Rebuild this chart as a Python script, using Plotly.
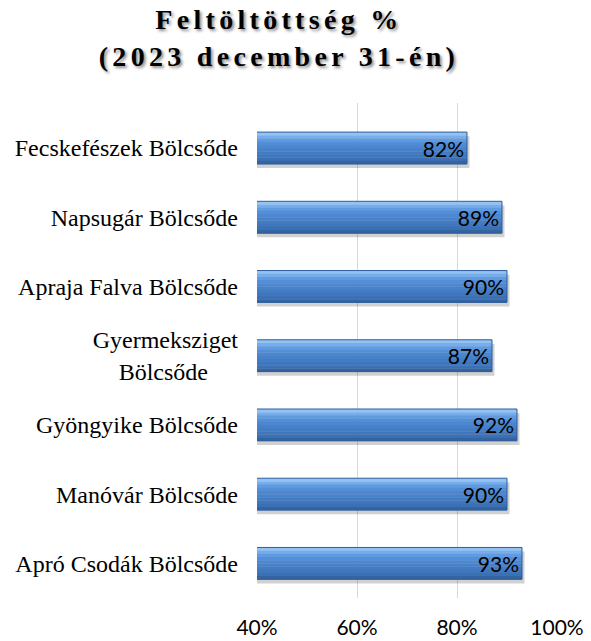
import plotly.graph_objects as go

categories = [
    "Fecskefészek Bölcsőde",
    "Napsugár Bölcsőde",
    "Apraja Falva Bölcsőde",
    "Gyermeksziget<br>Bölcsőde" + "\u00a0" * 5,
    "Gyöngyike Bölcsőde",
    "Manóvár Bölcsőde",
    "Apró Csodák Bölcsőde",
]
values = [82, 89, 90, 87, 92, 90, 93]
tick_vals = [40, 60, 80, 100]
tick_text = ["40%", "60%", "80%", "100%"]

W = 0.46
fig = go.Figure()

# soft shadow
fig.add_trace(go.Bar(
    y=categories, x=[v + 0.5 for v in values], orientation="h",
    width=W, offset=-W / 2 + 0.06,
    marker=dict(color="rgba(0,0,0,0.18)", line=dict(width=0)),
    hoverinfo="skip", showlegend=False,
))

# vertical gradient built from thin strips (top -> bottom)
strip_colors = ["#93c3f3", "#77adeb", "#609ae0", "#538fd7", "#4c87d0",
                "#4781ca", "#437cc3", "#3f76bc", "#3b70b4", "#33649f"]
n = len(strip_colors)
sw = W / n
for i, c in enumerate(strip_colors):
    fig.add_trace(go.Bar(
        y=categories, x=values, orientation="h",
        width=sw + 0.004, offset=-W / 2 + i * sw,
        marker=dict(color=c, line=dict(width=0)),
        hoverinfo="skip", showlegend=False,
    ))

# outline + labels
fig.add_trace(go.Bar(
    y=categories, x=values, orientation="h",
    width=W, offset=-W / 2,
    marker=dict(color="rgba(0,0,0,0)", line=dict(color="#2f5e9c", width=1)),
    texttemplate="%{x}%", textposition="inside", insidetextanchor="end",
    textfont=dict(family="Lato", size=21, color="#000000"),
    constraintext="none",
    hoverinfo="skip", showlegend=False,
))

fig.update_layout(
    width=591, height=641,
    margin=dict(l=257, r=34, t=103, b=43),
    paper_bgcolor="white", plot_bgcolor="white",
    barmode="overlay",
    showlegend=False,
    title=dict(
        text="Feltöltöttség %<br>(2023 december 31-én)",
        x=0.472, xanchor="center", xref="container",
        y=0.954, yanchor="top", yref="container",
        font=dict(family="Liberation Serif", size=28, color="black",
                  weight="bold", shadow="2px 2px 3px rgba(0,0,0,0.45)"),
    ),
    xaxis=dict(
        range=[40, 100], tickvals=tick_vals, ticktext=tick_text,
        showgrid=True, gridcolor="#d9d9d9", gridwidth=1,
        zeroline=False, showline=False, ticks="",
        tickfont=dict(family="Lato", size=21, color="#000000"),
        ticklabelstandoff=15, automargin=False,
    ),
    yaxis=dict(
        range=[6.5, -0.65], type="category",
        showgrid=False, zeroline=False, showline=False, ticks="",
        tickfont=dict(family="Liberation Serif", size=24, color="#000000"),
        ticklabelstandoff=18, automargin=False,
    ),
)

post = """
document.body.style.margin = '0';
document.body.style.padding = '0';
var gd = document.getElementById('{plot_id}');
function ls(){ gd.querySelectorAll('.gtitle').forEach(function(e){ e.style.letterSpacing='4.3px'; }); }
ls(); if (gd.on) { gd.on('plotly_afterplot', ls); }
setTimeout(ls, 50);
"""

fig.write_html("out.html", post_script=post, config={"displayModeBar": False})
